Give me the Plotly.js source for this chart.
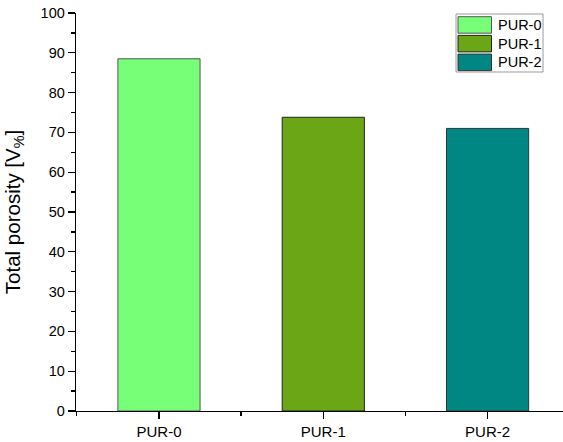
<!DOCTYPE html>
<html>
<head>
<meta charset="utf-8">
<script src="https://cdn.plot.ly/plotly-3.0.1.min.js"></script>
<style>html,body{margin:0;padding:0;background:#fff;}#chart{width:563px;height:442px;}</style>
</head>
<body>
<div id="chart"></div>
<script>
// Data
const categories = ["PUR-0", "PUR-1", "PUR-2"];
const porosity = [88.5, 73.8, 71.0];
const barColors = ["#78FF78", "#6BA616", "#008784"];
const barLineColors = ["#555555", "#222222", "#333333"];
const yTitle = "Total porosity [V<sub>%</sub>]";

const W = 563, H = 442;
const M = {l: 76, r: 0, t: 13, b: 31};
const plotW = W - M.l - M.r, plotH = H - M.t - M.b;
const px2x = p => (p - M.l) / plotW;
const py2y = p => (H - M.b - p) / plotH;

const xIdx = categories.map((c, i) => i);

const trace = {
  type: "bar",
  x: xIdx,
  y: porosity,
  width: 0.5,
  marker: {color: barColors, line: {color: barLineColors, width: 1}},
  showlegend: false,
  hoverinfo: "skip"
};

// manual legend (box + swatches + labels)
const shapes = [];
const annotations = [];
const lgX0 = 456, lgX1 = 543, lgY0 = 14, lgY1 = 72;
shapes.push({type: "rect", xref: "paper", yref: "paper",
  x0: px2x(lgX0), x1: px2x(lgX1), y0: py2y(lgY1), y1: py2y(lgY0),
  line: {color: "#9a9a9a", width: 1}, fillcolor: "#ffffff", layer: "above"});
categories.forEach((c, i) => {
  const top = 16.7 + i * 18.7;
  shapes.push({type: "rect", xref: "paper", yref: "paper",
    x0: px2x(458), x1: px2x(491.5), y0: py2y(top + 16.5), y1: py2y(top),
    line: {color: barLineColors[i], width: 1}, fillcolor: barColors[i], layer: "above"});
  annotations.push({xref: "paper", yref: "paper", x: px2x(496), y: py2y(top + 8.3),
    xanchor: "left", yanchor: "middle", text: c, showarrow: false,
    font: {family: "Liberation Sans, Arial, sans-serif", size: 14.5, color: "#000"}});
});

const layout = {
  width: W, height: H,
  margin: M,
  paper_bgcolor: "#fff", plot_bgcolor: "#fff",
  font: {family: "Liberation Sans, Arial, sans-serif", color: "#000"},
  showlegend: false,
  xaxis: {
    range: [-0.505, 2.459],
    tickmode: "array", tickvals: xIdx, ticktext: categories,
    ticks: "outside", ticklen: 7, tickwidth: 1.3, tickcolor: "#000",
    minor: {tickmode: "array", tickvals: [-0.5, 0.5, 1.5], ticks: "outside", ticklen: 4, tickwidth: 1.3, tickcolor: "#000"},
    showline: true, linecolor: "#000", linewidth: 1.3,
    showgrid: false, zeroline: false,
    tickfont: {size: 15}, fixedrange: true
  },
  yaxis: {
    range: [0, 100], dtick: 10, tick0: 0,
    ticks: "outside", ticklen: 7, tickwidth: 1.3, tickcolor: "#000",
    minor: {dtick: 5, ticks: "outside", ticklen: 4, tickwidth: 1.3, tickcolor: "#000"},
    showline: true, linecolor: "#000", linewidth: 1.3,
    showgrid: false, zeroline: false,
    tickfont: {size: 14.5},
    title: {text: yTitle, font: {size: 20.5}, standoff: 14},
    fixedrange: true
  },
  shapes: shapes,
  annotations: annotations
};

Plotly.newPlot("chart", [trace], layout, {displayModeBar: false, staticPlot: true});
</script>
</body>
</html>
